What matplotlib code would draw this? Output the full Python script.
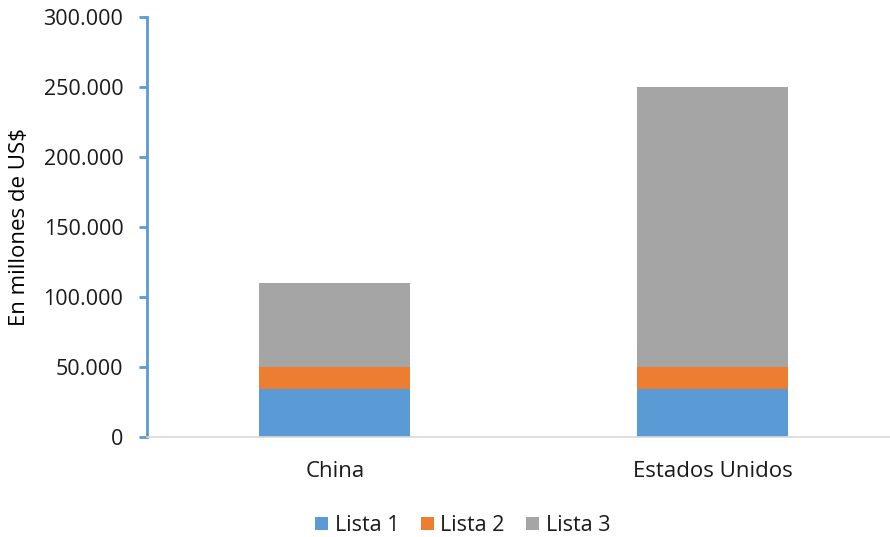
import matplotlib
matplotlib.use("Agg")
import matplotlib.pyplot as plt
from matplotlib.ticker import FuncFormatter
import numpy as np

plt.rcParams["font.family"] = ["Open Sans", "DejaVu Sans"]

categories = ["China", "Estados Unidos"]
series_names = ["Lista 1", "Lista 2", "Lista 3"]
lista1 = [34000, 34000]
lista2 = [16000, 16000]
lista3 = [60000, 200000]
colors = ["#5B9BD5", "#ED7D31", "#A5A5A5"]

fig = plt.figure(figsize=(8.9, 5.37), dpi=100)
ax = fig.add_axes([147 / 890, 1 - 437 / 537, 743 / 890, 420 / 537])

x = np.arange(len(categories))
bottom = np.zeros(len(categories))
for name, vals, col in zip(series_names, [lista1, lista2, lista3], colors):
    ax.bar(x, vals, width=0.4, bottom=bottom, color=col, label=name)
    bottom += np.array(vals)

ax.set_xlim(-0.497, 1.469)
ax.set_ylim(0, 300000)
ax.set_yticks(np.arange(0, 300001, 50000))
ax.yaxis.set_major_formatter(
    FuncFormatter(lambda v, p: f"{int(v):,}".replace(",", "."))
)
ax.set_xticks(x)
ax.set_xticklabels(categories)

for s in ["top", "right"]:
    ax.spines[s].set_visible(False)
ax.spines["left"].set_color("#5B9BD5")
ax.spines["left"].set_linewidth(2)
ax.spines["bottom"].set_color("#D9D9D9")
ax.spines["bottom"].set_linewidth(1.2)

ax.tick_params(axis="y", colors="#5B9BD5", length=6, width=2, pad=11,
               labelcolor="#1a1a1a", labelsize=15.5)
ax.tick_params(axis="x", length=0, pad=17, labelcolor="#1a1a1a", labelsize=16)

ax.set_ylabel("En millones de US$", fontsize=16, color="#000000")
ax.yaxis.set_label_coords(-0.157, 0.5)

ax.legend(loc="upper center", bbox_to_anchor=(0.425, -0.14), ncol=3,
          frameon=False, fontsize=15.5, handlelength=0.6, handleheight=0.6,
          handletextpad=0.3, columnspacing=1.0, labelcolor="#1a1a1a")

fig.savefig("out.png", dpi=100)
